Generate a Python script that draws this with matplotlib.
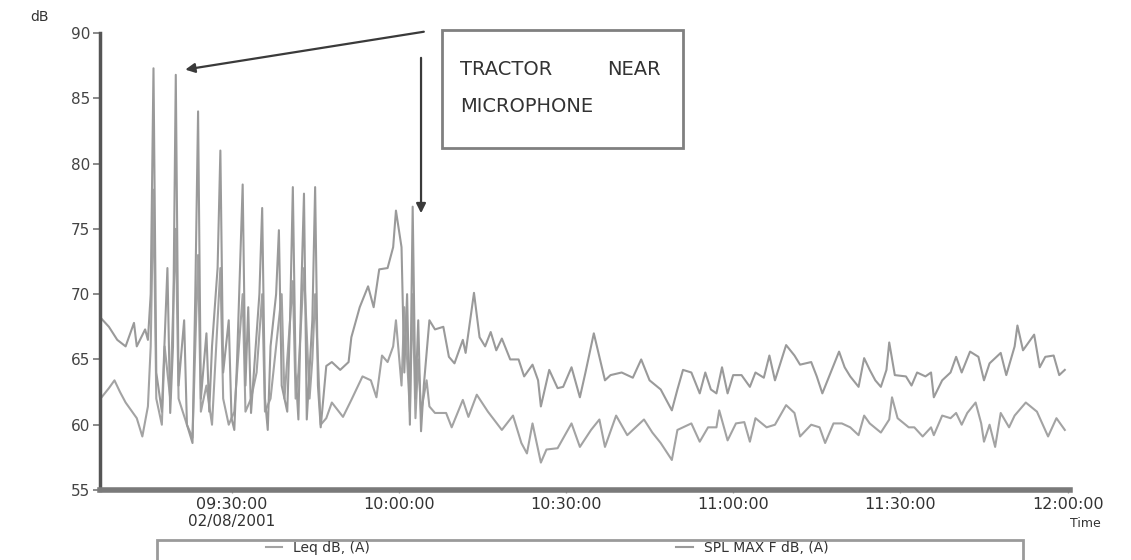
#!/usr/bin/env python

import matplotlib
matplotlib.use("Agg")
import matplotlib.pyplot as plt
from matplotlib.patches import Rectangle

# minutes after 09:00 on 02/08/2001
t_max = [6.5, 8, 9.5, 11, 12.5, 13, 14.5, 15, 15.5, 16, 16.5, 17.5, 18.5, 19, 19.5,
         20, 20.5, 21.5, 22, 23, 23.5, 24, 24.5, 25.5, 26, 26.5, 27.5, 28, 28.5, 29.5,
         30, 30.5, 31, 32, 32.5, 33, 33.5, 34.5, 35, 35.5, 36, 36.5, 37, 38, 38.5,
         39, 40, 40.5, 41, 41.5, 42, 42.5, 43, 43.5, 44.5, 45, 45.5, 46, 47, 48,
         49.5, 51, 51.5, 53, 54.5, 55.5, 56.5, 58, 59, 59.5, 60.5, 61, 61.5, 62, 62.5,
         63, 63.5, 64, 64.5, 65.5, 66.5, 68, 69, 70, 71.5, 72, 73.5, 74.5, 75.5, 76.5,
         77.5, 78.5, 80, 81.5, 82.5, 84, 85, 85.5, 87, 88.5, 89.5, 91, 92.5, 93.5, 95,
         96, 97, 98, 100, 102, 103.5, 105, 107, 109, 110, 111, 112.5, 114, 115, 116,
         117, 118, 119, 120, 121.5, 123, 124, 125.5, 126.5, 127.5, 129.5, 131, 132, 134, 135,
         136, 137.5, 139, 140, 141, 142.5, 143.5, 144.5, 145.5, 146.5, 147.5, 148, 149, 151, 152,
         153, 154.5, 155.5, 156, 157.5, 159, 160, 161, 162.5, 164, 165, 166, 168, 169, 170.5,
         171, 172, 174, 175, 176, 177.5, 178.5, 179.5]
spl_max = [68.2, 67.5, 66.5, 66.0, 67.8, 66.0, 67.3, 66.5, 70.0, 87.3, 64.0, 61.0, 72.0, 60.9, 66.0,
           86.8, 63.0, 68.0, 60.0, 58.6, 70.0, 84.0, 62.0, 67.0, 61.0, 66.0, 72.0, 81.0, 64.0, 68.0,
           60.5, 59.6, 65.0, 78.4, 63.0, 69.0, 60.9, 67.0, 70.0, 76.6, 62.0, 59.6, 66.0, 70.0, 74.9,
           63.0, 61.0, 68.0, 78.2, 64.0, 60.4, 70.0, 77.7, 60.4, 68.0, 78.2, 63.0, 59.8, 64.5, 64.8,
           64.2, 64.8, 66.7, 69.0, 70.6, 69.0, 71.9, 72.0, 73.6, 76.4, 73.6, 64.0, 70.0, 60.0, 76.7,
           62.0, 68.0, 59.5, 63.0, 68.0, 67.3, 67.5, 65.2, 64.7, 66.5, 65.5, 70.1, 66.7, 66.0, 67.1,
           65.7, 66.6, 65.0, 65.0, 63.7, 64.6, 63.4, 61.4, 64.2, 62.8, 62.9, 64.4, 62.1, 64.0, 67.0,
           65.2, 63.4, 63.8, 64.0, 63.6, 65.0, 63.4, 62.7, 61.1, 62.7, 64.2, 64.0, 62.4, 64.0, 62.7,
           62.4, 64.4, 62.4, 63.8, 63.8, 62.9, 64.0, 63.6, 65.3, 63.4, 66.1, 65.3, 64.6, 64.8, 63.7,
           62.4, 64.0, 65.6, 64.4, 63.7, 62.9, 65.1, 64.2, 63.4, 62.9, 64.2, 66.3, 63.8, 63.7, 63.0,
           64.0, 63.7, 64.0, 62.1, 63.4, 64.0, 65.2, 64.0, 65.6, 65.2, 63.4, 64.7, 65.5, 63.8, 66.0,
           67.6, 65.7, 66.9, 64.4, 65.2, 65.3, 63.8, 64.2]

t_leq = [6.5, 8, 9, 10, 11, 12, 13, 14, 15, 15.5, 16, 16.5, 17.5, 18, 19,
         20, 20.5, 22, 23, 24, 24.5, 25.5, 26.5, 28, 28.5, 29.5, 30.5, 32, 32.5, 33.5,
         34.5, 35.5, 36, 37, 38, 39, 39.5, 41, 41.5, 42, 43, 44, 44.5, 45, 46,
         47, 48, 50, 51.5, 53.5, 55, 56, 57, 58, 59, 59.5, 60.5, 61, 62, 62.5,
         63, 63.5, 64, 65, 65.5, 66.5, 68.5, 69.5, 71.5, 72.5, 74, 76, 78.5, 80.5, 82,
         83, 84, 85.5, 86.5, 88.5, 91, 92.5, 94.5, 96, 97, 99, 101, 104, 105.5, 107,
         109, 110, 112.5, 114, 115.5, 117, 117.5, 119, 120.5, 122, 123, 124, 126, 127.5, 129.5,
         131, 132, 134, 135.5, 136.5, 138, 139.5, 141, 142.5, 143.5, 144.5, 146.5, 148, 148.5, 149.5,
         151.5, 152.5, 154, 155.5, 156, 157.5, 159, 160, 161, 162, 163.5, 164.5, 165, 166, 167,
         168, 169.5, 170.5, 172.5, 174.5, 176.5, 178, 179.5]
leq = [62.0, 62.8, 63.4, 62.5, 61.7, 61.1, 60.5, 59.1, 61.4, 66.0, 78.0, 62.0, 60.0, 66.0, 62.0,
       75.0, 62.0, 60.0, 59.0, 73.0, 61.0, 63.0, 60.0, 72.0, 62.0, 60.0, 61.0, 70.0, 61.0, 62.0,
       64.0, 70.0, 61.0, 62.0, 66.0, 70.0, 62.0, 71.0, 62.0, 64.0, 72.0, 62.0, 65.0, 70.0, 60.0,
       60.5, 61.7, 60.6, 61.9, 63.7, 63.4, 62.1, 65.3, 64.8, 66.0, 68.0, 63.0, 69.0, 61.0, 70.0,
       60.5, 65.0, 61.0, 63.4, 61.4, 60.9, 60.9, 59.8, 61.9, 60.6, 62.3, 61.0, 59.6, 60.7, 58.6,
       57.8, 60.1, 57.1, 58.1, 58.2, 60.1, 58.3, 59.6, 60.4, 58.3, 60.7, 59.2, 60.4, 59.4, 58.6,
       57.3, 59.6, 60.1, 58.7, 59.8, 59.8, 61.1, 58.8, 60.1, 60.2, 58.7, 60.5, 59.8, 60.0, 61.5,
       60.9, 59.1, 60.0, 59.8, 58.6, 60.1, 60.1, 59.8, 59.2, 60.7, 60.1, 59.4, 60.4, 62.1, 60.5,
       59.8, 59.8, 59.1, 59.8, 59.2, 60.7, 60.5, 60.9, 60.0, 60.9, 61.7, 60.1, 58.7, 60.0, 58.3,
       60.9, 59.8, 60.7, 61.7, 61.0, 59.1, 60.5, 59.6]

tick_minutes = [30, 60, 90, 120, 150, 180]
tick_labels = ["09:30:00", "10:00:00", "10:30:00", "11:00:00", "11:30:00", "12:00:00"]
y_ticks = [55, 60, 65, 70, 75, 80, 85, 90]


def main():
    fig = plt.figure(figsize=(11.31, 5.6), dpi=100)
    ax = fig.add_axes([0.0884, 0.125, 0.858, 0.816])

    ax.plot(t_leq, leq, ls="-", lw=1.5, c="#a3a3a3", label="Leq dB, (A)")
    ax.plot(t_max, spl_max, ls="-", lw=1.5, c="#9a9a9a", label="SPL MAX F dB, (A)")

    ax.set_xlim(6.4, 180.5)
    ax.set_ylim(55, 90)

    for side in ["top", "right"]:
        ax.spines[side].set_visible(False)
    ax.spines["left"].set_color("#555555")
    ax.spines["left"].set_linewidth(2.5)
    ax.spines["bottom"].set_color("#7a7a7a")
    ax.spines["bottom"].set_linewidth(4)

    ax.set_yticks(y_ticks)
    ax.set_yticklabels([str(y) for y in y_ticks], fontsize=11, color="#444444")
    ax.tick_params(axis="y", length=5, width=1.2, color="#777777", pad=2)
    ax.set_xticks(tick_minutes)
    ax.set_xticklabels(tick_labels, fontsize=11.5, color="#333333")
    ax.tick_params(axis="x", length=2, width=1, color="#999999", pad=3)

    ax.text(-0.062, 1.035, "dB", transform=ax.transAxes, fontsize=10,
            color="#333333", ha="center", va="center")
    ax.text(1.015, -0.073, "Time", transform=ax.transAxes, fontsize=9,
            color="#333333", ha="center", va="center")
    ax.text(30, -0.07, "02/08/2001", transform=ax.get_xaxis_transform(),
            fontsize=11, color="#333333", ha="center", va="center")

    # note box with arrows
    ax.add_patch(Rectangle((0.3526, 0.748), 0.2485, 0.258, transform=ax.transAxes,
                           fill=False, ec="#808080", lw=2, clip_on=False))
    ax.text(0.371, 0.908, "TRACTOR", transform=ax.transAxes, fontsize=14,
            color="#333333", va="baseline")
    ax.text(0.5227, 0.908, "NEAR", transform=ax.transAxes, fontsize=14,
            color="#333333", va="baseline")
    ax.text(0.371, 0.827, "MICROPHONE", transform=ax.transAxes, fontsize=14,
            color="#333333", va="baseline")

    arrow = dict(arrowstyle="-|>", color="#3a3a3a", lw=1.6, mutation_scale=14,
                 shrinkA=0, shrinkB=0)
    ax.annotate("", xy=(21.7, 87.2), xytext=(64.5, 90.1), arrowprops=arrow,
                annotation_clip=False)
    ax.annotate("", xy=(64.0, 76.2), xytext=(64.0, 88.1), arrowprops=arrow,
                annotation_clip=False)

    # legend strip at the bottom edge
    fig.patches.append(Rectangle((0.1388, -0.01), 0.7657, 0.046, transform=fig.transFigure,
                                 fill=False, ec="#9a9a9a", lw=2))
    fig.legend(loc="center", bbox_to_anchor=(0.4836, 0.0214), ncol=2, frameon=False,
               fontsize=10, handlelength=1.2, handletextpad=0.8, columnspacing=22,
               labelcolor="#333333")

    plt.savefig("out.png", dpi=100)


if __name__ == '__main__':
    main()
